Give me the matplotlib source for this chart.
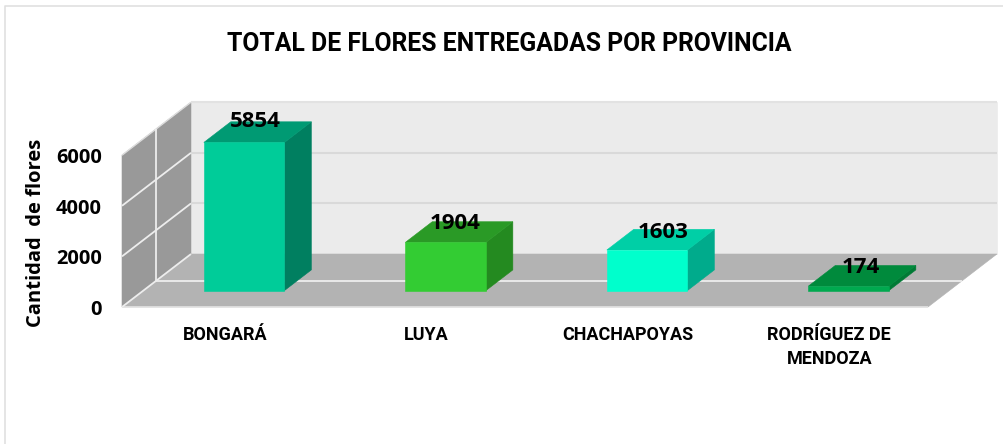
import matplotlib
matplotlib.use("Agg")
import matplotlib.pyplot as plt

categories = ["BONGARÁ", "LUYA", "CHACHAPOYAS", "RODRÍGUEZ DE\nMENDOZA"]
values = [5854, 1904, 1603, 174]
y_ticks = [0, 2000, 4000, 6000]
title = "TOTAL DE FLORES ENTREGADAS POR PROVINCIA"
y_label = "Cantidad  de flores"
front_colors = ["#00CC99", "#33CC33", "#00FFCC", "#00A94F"]
top_colors = ["#009A73", "#2A9A26", "#00CFA6", "#008A3C"]
side_colors = ["#007F60", "#248A20", "#00AB8C", "#007A35"]
label_nudge_x = [-2, -3, 2, -1]
label_nudge_y = [8, 6, 5.5, 6]

W, H = 1004, 444
PX_CAT = 201.5
PX_VAL = 0.0253
X0, Y0 = 122, 307
DX = 69 / PX_CAT
DV = 53 / PX_VAL
BAR_W = 0.40
D_FRONT, D_BACK = 0.31, 0.70
BOLD = "Open Sans"
NARROW = "Roboto"

fig = plt.figure(figsize=(W / 100, H / 100), dpi=100, facecolor="white")
ax = fig.add_axes([0, 0, 1, 1])
ax.set_xlim(-0.5 - X0 / PX_CAT, -0.5 + (W - X0) / PX_CAT)
ax.set_ylim((Y0 - H) / PX_VAL, Y0 / PX_VAL)
ax.axis("off")


def P(x, v, d=0.0):
    return x + d * DX, v + d * DV


def poly(pts, color, z=1):
    xs, ys = zip(*pts)
    ax.fill(xs, ys, facecolor=color, edgecolor=color, linewidth=0.4, zorder=z)


def line(a, b, color, lw, z=2):
    ax.plot([a[0], b[0]], [a[1], b[1]], color=color, lw=lw, zorder=z,
            solid_capstyle="butt")


xl, xr = -0.5, 3.5
top = y_ticks[-1]

# walls and floor
poly([P(xl, 0, 1), P(xr, 0, 1), P(xr, top, 1), P(xl, top, 1)], "#EBEBEB")
poly([P(xl, 0, 0), P(xl, 0, 1), P(xl, top, 1), P(xl, top, 0)], "#999999")
poly([P(xl, 0, 0), P(xr, 0, 0), P(xr, 0, 1), P(xl, 0, 1)], "#B3B3B3")
line(P(xl, top, 1), P(xr, top, 1), "#E2E2E2", 1.5)
line(P(xl, top, 0), P(xl, top, 1), "#DDDDDD", 1.0)
line(P(xl, 0, 0), P(xr, 0, 0), "#E4E4E4", 1.2)
for t in y_ticks[1:-1]:
    line(P(xl, t, 1), P(xr, t, 1), "#D9D9D9", 1.5)
for t in y_ticks[:-1]:
    line(P(xl, t, 0), P(xl, t, 1), "#EDEDED", 1.3)
line(P(xl, 0, 0.5), P(xl, top, 0.5), "#EDEDED", 1.3)
line(P(xl, 0, 0.5), P(xr, 0, 0.5), "#EDEDED", 1.3)

# columns
for i, (v, fc, tc, sc) in enumerate(zip(values, front_colors, top_colors, side_colors)):
    a, b = i - BAR_W / 2, i + BAR_W / 2
    poly([P(b, 0, D_FRONT), P(b, 0, D_BACK), P(b, v, D_BACK), P(b, v, D_FRONT)], sc, 3)
    poly([P(a, v, D_FRONT), P(b, v, D_FRONT), P(b, v, D_BACK), P(a, v, D_BACK)], tc, 3)
    poly([P(a, 0, D_FRONT), P(b, 0, D_FRONT), P(b, v, D_FRONT), P(a, v, D_FRONT)], fc, 4)
    ax.annotate(str(v), xy=P(i, v, (D_FRONT + D_BACK) / 2),
                xytext=(label_nudge_x[i], label_nudge_y[i]),
                textcoords="offset points", ha="center", va="center",
                fontfamily=BOLD, fontweight="bold", fontsize=16, color="black", zorder=6)

# axis text
for t in y_ticks:
    ax.text(xl - 20 / PX_CAT, t - 3 / PX_VAL, str(t), ha="right", va="center",
            fontfamily=BOLD, fontweight="bold", fontsize=14.4, color="black")
ax.text(xl - 86 / PX_CAT, top * 0.5 - 1.5 / PX_VAL, y_label, rotation=90, ha="center", va="center",
        fontfamily=BOLD, fontweight="bold", fontsize=14.5, color="black")
for i, c in enumerate(categories):
    ax.text(i + 2 / PX_CAT, -19 / PX_VAL, c, ha="center", va="top", linespacing=1.45,
            fontfamily=NARROW, fontweight="bold", fontsize=13, color="black")

ax.text(0.507, 0.9, title, transform=ax.transAxes, ha="center", va="center",
        fontfamily=NARROW, fontweight="bold", fontsize=17.85, color="black")

# chart frame
ax.plot([5 / W, 5 / W, 1], [0, 1 - 6 / H, 1 - 6 / H],
        transform=ax.transAxes, color="#E0E0E0", lw=1.2, clip_on=False)

fig.savefig("out.png", dpi=100, facecolor="white")
